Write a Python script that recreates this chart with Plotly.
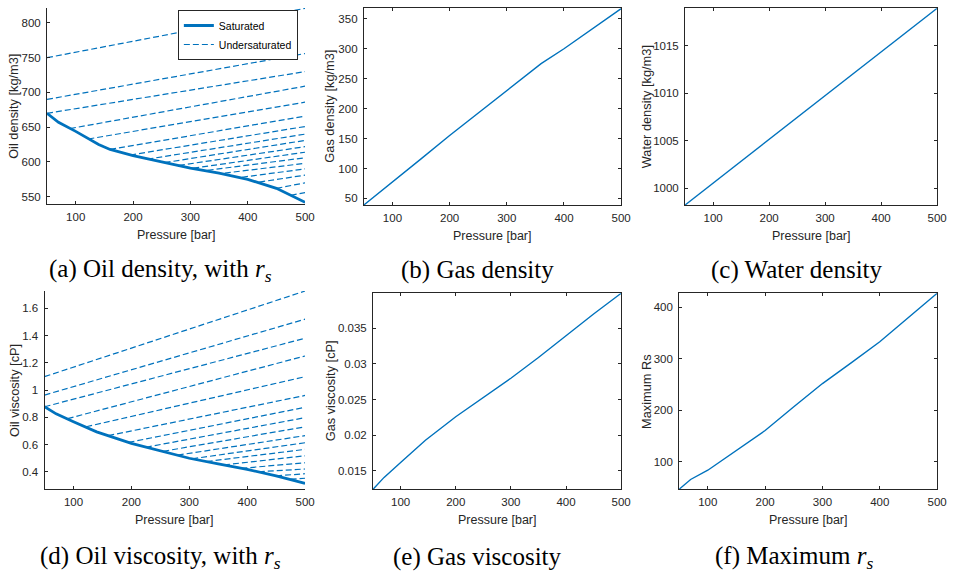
import plotly.graph_objects as go

W, H = 958, 572
BLUE = "#0072BD"
AX = "#262626"

# ---------------- data ----------------
# (a)/(d) saturated oil properties
sat_p = [50, 70, 100, 140, 160, 200, 250, 300, 350, 400, 450, 500]
sat_rho = [670, 657, 644, 625, 618, 609, 600, 591, 584, 575, 562, 542]
sat_mu_p = [50, 70, 100, 140, 200, 250, 300, 350, 400, 450, 500]
sat_mu = [0.877, 0.825, 0.767, 0.693, 0.608, 0.553, 0.499, 0.458, 0.417, 0.37, 0.314]

# undersaturated branches: start pressure -> 500 bar
us_p0 = [50, 50, 50, 90, 122, 160, 195, 225, 255, 280, 305, 330, 360, 390, 420, 450, 475]
us_p1 = 500
oil_rho_us_start = [750, 690, 670, 648, 633, 618, 610, 604, 599, 595, 591, 588, 584, 578, 571, 562, 552]
oil_rho_us_end = [821, 756, 730, 709, 686, 666, 651, 640, 631, 622, 614, 606, 598, 590, 581, 570, 556]
oil_mu_us_start = [1.098, 0.963, 0.877, 0.79, 0.73, 0.665, 0.615, 0.58, 0.55, 0.522, 0.495, 0.475, 0.45, 0.425, 0.40, 0.37, 0.345]
oil_mu_us_end = [1.727, 1.52, 1.38, 1.25, 1.098, 0.96, 0.873, 0.797, 0.73, 0.665, 0.613, 0.564, 0.517, 0.466, 0.42, 0.385, 0.352]

# (b) gas density
gas_p = [50, 100, 150, 200, 250, 300, 350, 360, 400, 450, 500]
gas_rho = [39, 77, 116, 155, 193, 231, 268, 275, 300, 333, 367]

# (c) water density
wat_p = [50, 500]
wat_rho = [998.25, 1018.93]

# (e) gas viscosity
gmu_p = [50, 70, 100, 145, 200, 250, 300, 350, 400, 450, 500]
gas_mu = [0.01243, 0.0141, 0.0162, 0.0193, 0.0226, 0.0253, 0.0280, 0.0309, 0.0340, 0.0370, 0.0399]

# (f) maximum Rs
rs_p = [50, 70, 100, 140, 200, 250, 300, 350, 400, 450, 500]
rs_max = [47, 66, 84, 115, 161, 207, 252, 292, 333, 380, 427]

x_ticks = [100, 200, 300, 400, 500]

RS = "<i>r</i><sub><i>s</i></sub>"
panels = [
    dict(k="", box=(47.5, 8, 308.3, 204), yr=[539.5, 821.5], yt=[550, 600, 650, 700, 750, 800], ytt=None,
         mirror=False, ylab="Oil density [kg/m3]", cap="(a) Oil density, with " + RS, capy=270),
    dict(k="2", box=(367.7, 8.3, 627.7, 205), yr=[39, 367.5], yt=[50, 100, 150, 200, 250, 300, 350], ytt=None,
         mirror=True, ylab="Gas density [kg/m3]", cap="(b) Gas density", capy=270),
    dict(k="3", box=(692.3, 8.3, 947, 205), yr=[998.25, 1018.93], yt=[1000, 1005, 1010, 1015], ytt=None,
         mirror=True, ylab="Water density [kg/m3]", cap="(c) Water density", capy=270),
    dict(k="4", box=(45, 291, 308.3, 489.3), yr=[0.271, 1.727], yt=[0.4, 0.6, 0.8, 1.0, 1.2, 1.4, 1.6],
         ytt=["0.4", "0.6", "0.8", "1", "1.2", "1.4", "1.6"],
         mirror=False, ylab="Oil viscosity [cP]", cap="(d) Oil viscosity, with " + RS, capy=557),
    dict(k="5", box=(377, 293.3, 627.7, 489.3), yr=[0.01243, 0.0399], yt=[0.015, 0.02, 0.025, 0.03, 0.035],
         ytt=["0.015", "0.02", "0.025", "0.03", "0.035"],
         mirror=True, ylab="Gas viscosity [cP]", cap="(e) Gas viscosity", capy=557),
    dict(k="6", box=(686.3, 293.3, 947, 489.3), yr=[47, 427], yt=[100, 200, 300, 400], ytt=None,
         mirror=True, ylab="Maximum Rs", cap="(f) Maximum " + RS, capy=557),
]

fig = go.Figure()

# (a) oil density
for i in range(len(us_p0)):
    fig.add_trace(go.Scatter(x=[us_p0[i], us_p1], y=[oil_rho_us_start[i], oil_rho_us_end[i]],
                             mode="lines", line=dict(color=BLUE, width=1.2, dash="6px,3px"),
                             name="Undersaturated", legendgroup="us", showlegend=(i == 0),
                             xaxis="x", yaxis="y"))
fig.add_trace(go.Scatter(x=sat_p, y=sat_rho, mode="lines", line=dict(color=BLUE, width=2.8),
                         name="Saturated", showlegend=True, xaxis="x", yaxis="y"))
# (b)
fig.add_trace(go.Scatter(x=gas_p, y=gas_rho, mode="lines", line=dict(color=BLUE, width=1.4),
                         showlegend=False, xaxis="x2", yaxis="y2"))
# (c)
fig.add_trace(go.Scatter(x=wat_p, y=wat_rho, mode="lines", line=dict(color=BLUE, width=1.4),
                         showlegend=False, xaxis="x3", yaxis="y3"))
# (d) oil viscosity
for i in range(len(us_p0)):
    fig.add_trace(go.Scatter(x=[us_p0[i], us_p1], y=[oil_mu_us_start[i], oil_mu_us_end[i]],
                             mode="lines", line=dict(color=BLUE, width=1.2, dash="6px,3px"),
                             showlegend=False, xaxis="x4", yaxis="y4"))
fig.add_trace(go.Scatter(x=sat_mu_p, y=sat_mu, mode="lines", line=dict(color=BLUE, width=2.8),
                         showlegend=False, xaxis="x4", yaxis="y4"))
# (e)
fig.add_trace(go.Scatter(x=gmu_p, y=gas_mu, mode="lines", line=dict(color=BLUE, width=1.4),
                         showlegend=False, xaxis="x5", yaxis="y5"))
# (f)
fig.add_trace(go.Scatter(x=rs_p, y=rs_max, mode="lines", line=dict(color=BLUE, width=1.4),
                         showlegend=False, xaxis="x6", yaxis="y6"))

layout = dict(
    width=W, height=H, margin=dict(l=0, r=0, t=0, b=0),
    paper_bgcolor="white", plot_bgcolor="white",
    font=dict(family="Liberation Sans, Arial, sans-serif", color=AX, size=11),
    showlegend=True,
    legend=dict(x=301 / W, y=1 - 10 / H, xanchor="right", yanchor="top",
                bgcolor="white", bordercolor=AX, borderwidth=1,
                font=dict(size=10.5, color="black"), traceorder="reversed",
                tracegroupgap=0, itemwidth=30),
)

annotations = []
for p in panels:
    l, t, r, b = p["box"]
    xd = [l / W, r / W]
    yd = [1 - b / H, 1 - t / H]
    k = p["k"]
    common = dict(showline=True, linecolor=AX, linewidth=1, ticks="inside", ticklen=3,
                  tickcolor=AX, tickwidth=1, showgrid=False, zeroline=False,
                  mirror="ticks" if p["mirror"] else False,
                  tickfont=dict(size=11.5, color=AX))
    xa = dict(common, domain=xd, range=[50, 500], tickvals=x_ticks,
              anchor="y" + k, ticklabelstandoff=2)
    ya = dict(common, domain=yd, range=p["yr"], tickvals=p["yt"],
              anchor="x" + k, ticklabelstandoff=3)
    if p["ytt"]:
        ya["ticktext"] = p["ytt"]
    layout["xaxis" + k] = xa
    layout["yaxis" + k] = ya
    annotations.append(dict(text="Pressure [bar]", x=(l + r) / 2 / W, y=1 - (b + 31) / H,
                            xref="paper", yref="paper", xanchor="center", yanchor="middle",
                            showarrow=False, font=dict(size=12.5, color=AX)))
    yl_x = {"": 13, "2": 333.5, "3": 653.5, "4": 14, "5": 333.5, "6": 653.5}[k]
    annotations.append(dict(text=p["ylab"], x=yl_x / W, y=1 - (t + b) / 2 / H,
                            xref="paper", yref="paper", xanchor="center", yanchor="middle",
                            textangle=-90, showarrow=False, font=dict(size=12.8, color=AX)))
    cx = {"": 162, "2": 482.5, "3": 805, "4": 162.5, "5": 482.5, "6": 802.5}[k]
    annotations.append(dict(text=p["cap"], x=cx / W, y=1 - p["capy"] / H,
                            xref="paper", yref="paper", xanchor="center", yanchor="middle",
                            showarrow=False,
                            font=dict(family="Liberation Serif, Times New Roman, serif", size=25,
                                      color="black")))

layout["annotations"] = annotations
fig.update_layout(**layout)
fig.write_html("out.html")
